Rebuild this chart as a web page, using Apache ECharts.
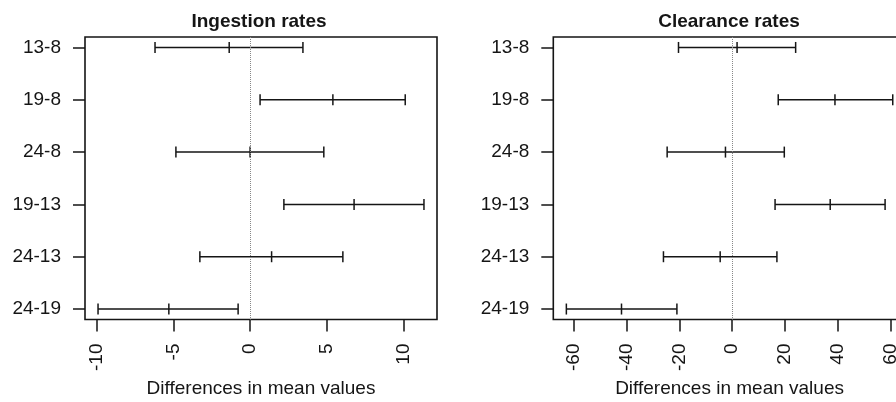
<!DOCTYPE html>
<html>
<head>
<meta charset="utf-8">
<script src="https://cdn.jsdelivr.net/npm/echarts@6/dist/echarts.min.js"></script>
<style>
html,body{margin:0;padding:0;background:#fff;}
#chart{width:896px;height:402px;}
</style>
</head>
<body>
<div id="chart"></div>
<script>
// ---- data ----
const categories = ['13-8', '19-8', '24-8', '19-13', '24-13', '24-19'];

const ingestionLwr  = [-6.19, 0.65, -4.83, 2.20, -3.27, -9.90];
const ingestionMean = [-1.36, 5.39, 0.00, 6.77, 1.40, -5.29];
const ingestionUpr  = [3.44, 10.10, 4.80, 11.32, 6.04, -0.78];

const clearanceLwr  = [-20.3, 17.5, -24.6, 16.3, -26.0, -62.8];
const clearanceMean = [1.9, 39.0, -2.5, 37.2, -4.5, -41.9];
const clearanceUpr  = [24.1, 60.9, 19.8, 58.0, 17.0, -20.9];

const ingestionTicks = [-10, -5, 0, 5, 10];
const clearanceTicks = [-60, -40, -20, 0, 20, 40, 60];

const titles = ['Ingestion rates', 'Clearance rates'];
const xAxisTitle = 'Differences in mean values';

// ---- helpers ----
const FONT = '"Liberation Sans", Arial, Helvetica, sans-serif';
const INK = '#151515';

function padRange(lwr, upr) {
  const lo = Math.min(...lwr), hi = Math.max(...upr);
  const pad = (hi - lo) * 0.04; // R-style 4% axis expansion
  return [lo - pad, hi + pad];
}
const rowValues = categories.map((c, i) => i + 1);

function buildData(lwr, mean, upr) {
  return categories.map((c, i) => [i + 1, lwr[i], mean[i], upr[i]]);
}

function renderItem(params, api) {
  const y = api.value(0);
  const a = api.coord([api.value(1), y]);
  const m = api.coord([api.value(2), y]);
  const b = api.coord([api.value(3), y]);
  const h = 5.5;
  const style = { stroke: INK, lineWidth: 1.5 };
  const seg = (x1, y1, x2, y2) => ({ type: 'line', shape: { x1, y1, x2, y2 }, style });
  return {
    type: 'group',
    children: [
      seg(a[0], a[1], b[0], b[1]),
      seg(a[0], a[1] - h, a[0], a[1] + h),
      seg(m[0], m[1] - h, m[0], m[1] + h),
      seg(b[0], b[1] - h, b[0], b[1] + h)
    ]
  };
}

const ingRange = padRange(ingestionLwr, ingestionUpr);
const clrRange = padRange(clearanceLwr, clearanceUpr);

function xAxisDef(gridIndex, range, ticks) {
  return {
    type: 'value', gridIndex, min: range[0], max: range[1], position: 'bottom',
    splitLine: { show: false },
    axisLine: { show: false, onZero: false },
    axisTick: { show: true, length: 12, customValues: ticks, lineStyle: { color: INK, width: 1.5 } },
    axisLabel: { customValues: ticks, rotate: 90, margin: 24, fontSize: 19, color: INK, fontFamily: FONT },
    name: xAxisTitle, nameLocation: 'middle', nameGap: 60,
    nameTextStyle: { fontSize: 19, color: INK, fontFamily: FONT }
  };
}
function yAxisDef(gridIndex) {
  return {
    type: 'value', gridIndex, min: 0.8, max: 6.2, inverse: true, position: 'left',
    splitLine: { show: false },
    axisLine: { show: false, onZero: false },
    axisTick: { show: true, length: 12, customValues: rowValues, lineStyle: { color: INK, width: 1.5 } },
    axisLabel: {
      customValues: rowValues, margin: 24, fontSize: 19, color: INK, fontFamily: FONT,
      formatter: v => categories[Math.round(v) - 1]
    }
  };
}

const zeroLine = {
  silent: true, symbol: 'none', label: { show: false },
  lineStyle: { color: '#888', type: 'dotted', width: 1 },
  data: [{ xAxis: 0 }]
};

const option = {
  backgroundColor: '#fff',
  animation: false,
  title: [
    { text: titles[0], left: 254, top: 7, textAlign: 'center',
      textStyle: { fontSize: 19, fontWeight: 'bold', color: INK, fontFamily: FONT } },
    { text: titles[1], left: 724, top: 7, textAlign: 'center',
      textStyle: { fontSize: 19, fontWeight: 'bold', color: INK, fontFamily: FONT } }
  ],
  grid: [
    { left: 85, top: 37, width: 352, height: 282.5, show: true, borderColor: INK, borderWidth: 1.6,
      backgroundColor: 'transparent', containLabel: false, outerBoundsMode: 'none' },
    { left: 553.3, top: 37, width: 352.5, height: 282.5, show: true, borderColor: INK, borderWidth: 1.6,
      backgroundColor: 'transparent', containLabel: false, outerBoundsMode: 'none' }
  ],
  xAxis: [xAxisDef(0, ingRange, ingestionTicks), xAxisDef(1, clrRange, clearanceTicks)],
  yAxis: [yAxisDef(0), yAxisDef(1)],
  series: [
    { type: 'custom', xAxisIndex: 0, yAxisIndex: 0, renderItem,
      encode: { x: [1, 2, 3], y: 0 },
      data: buildData(ingestionLwr, ingestionMean, ingestionUpr), markLine: zeroLine, z: 3 },
    { type: 'custom', xAxisIndex: 1, yAxisIndex: 1, renderItem,
      encode: { x: [1, 2, 3], y: 0 },
      data: buildData(clearanceLwr, clearanceMean, clearanceUpr), markLine: zeroLine, z: 3 }
  ]
};

const chart = echarts.init(document.getElementById('chart'), null, { renderer: 'canvas' });
chart.setOption(option);
</script>
</body>
</html>
